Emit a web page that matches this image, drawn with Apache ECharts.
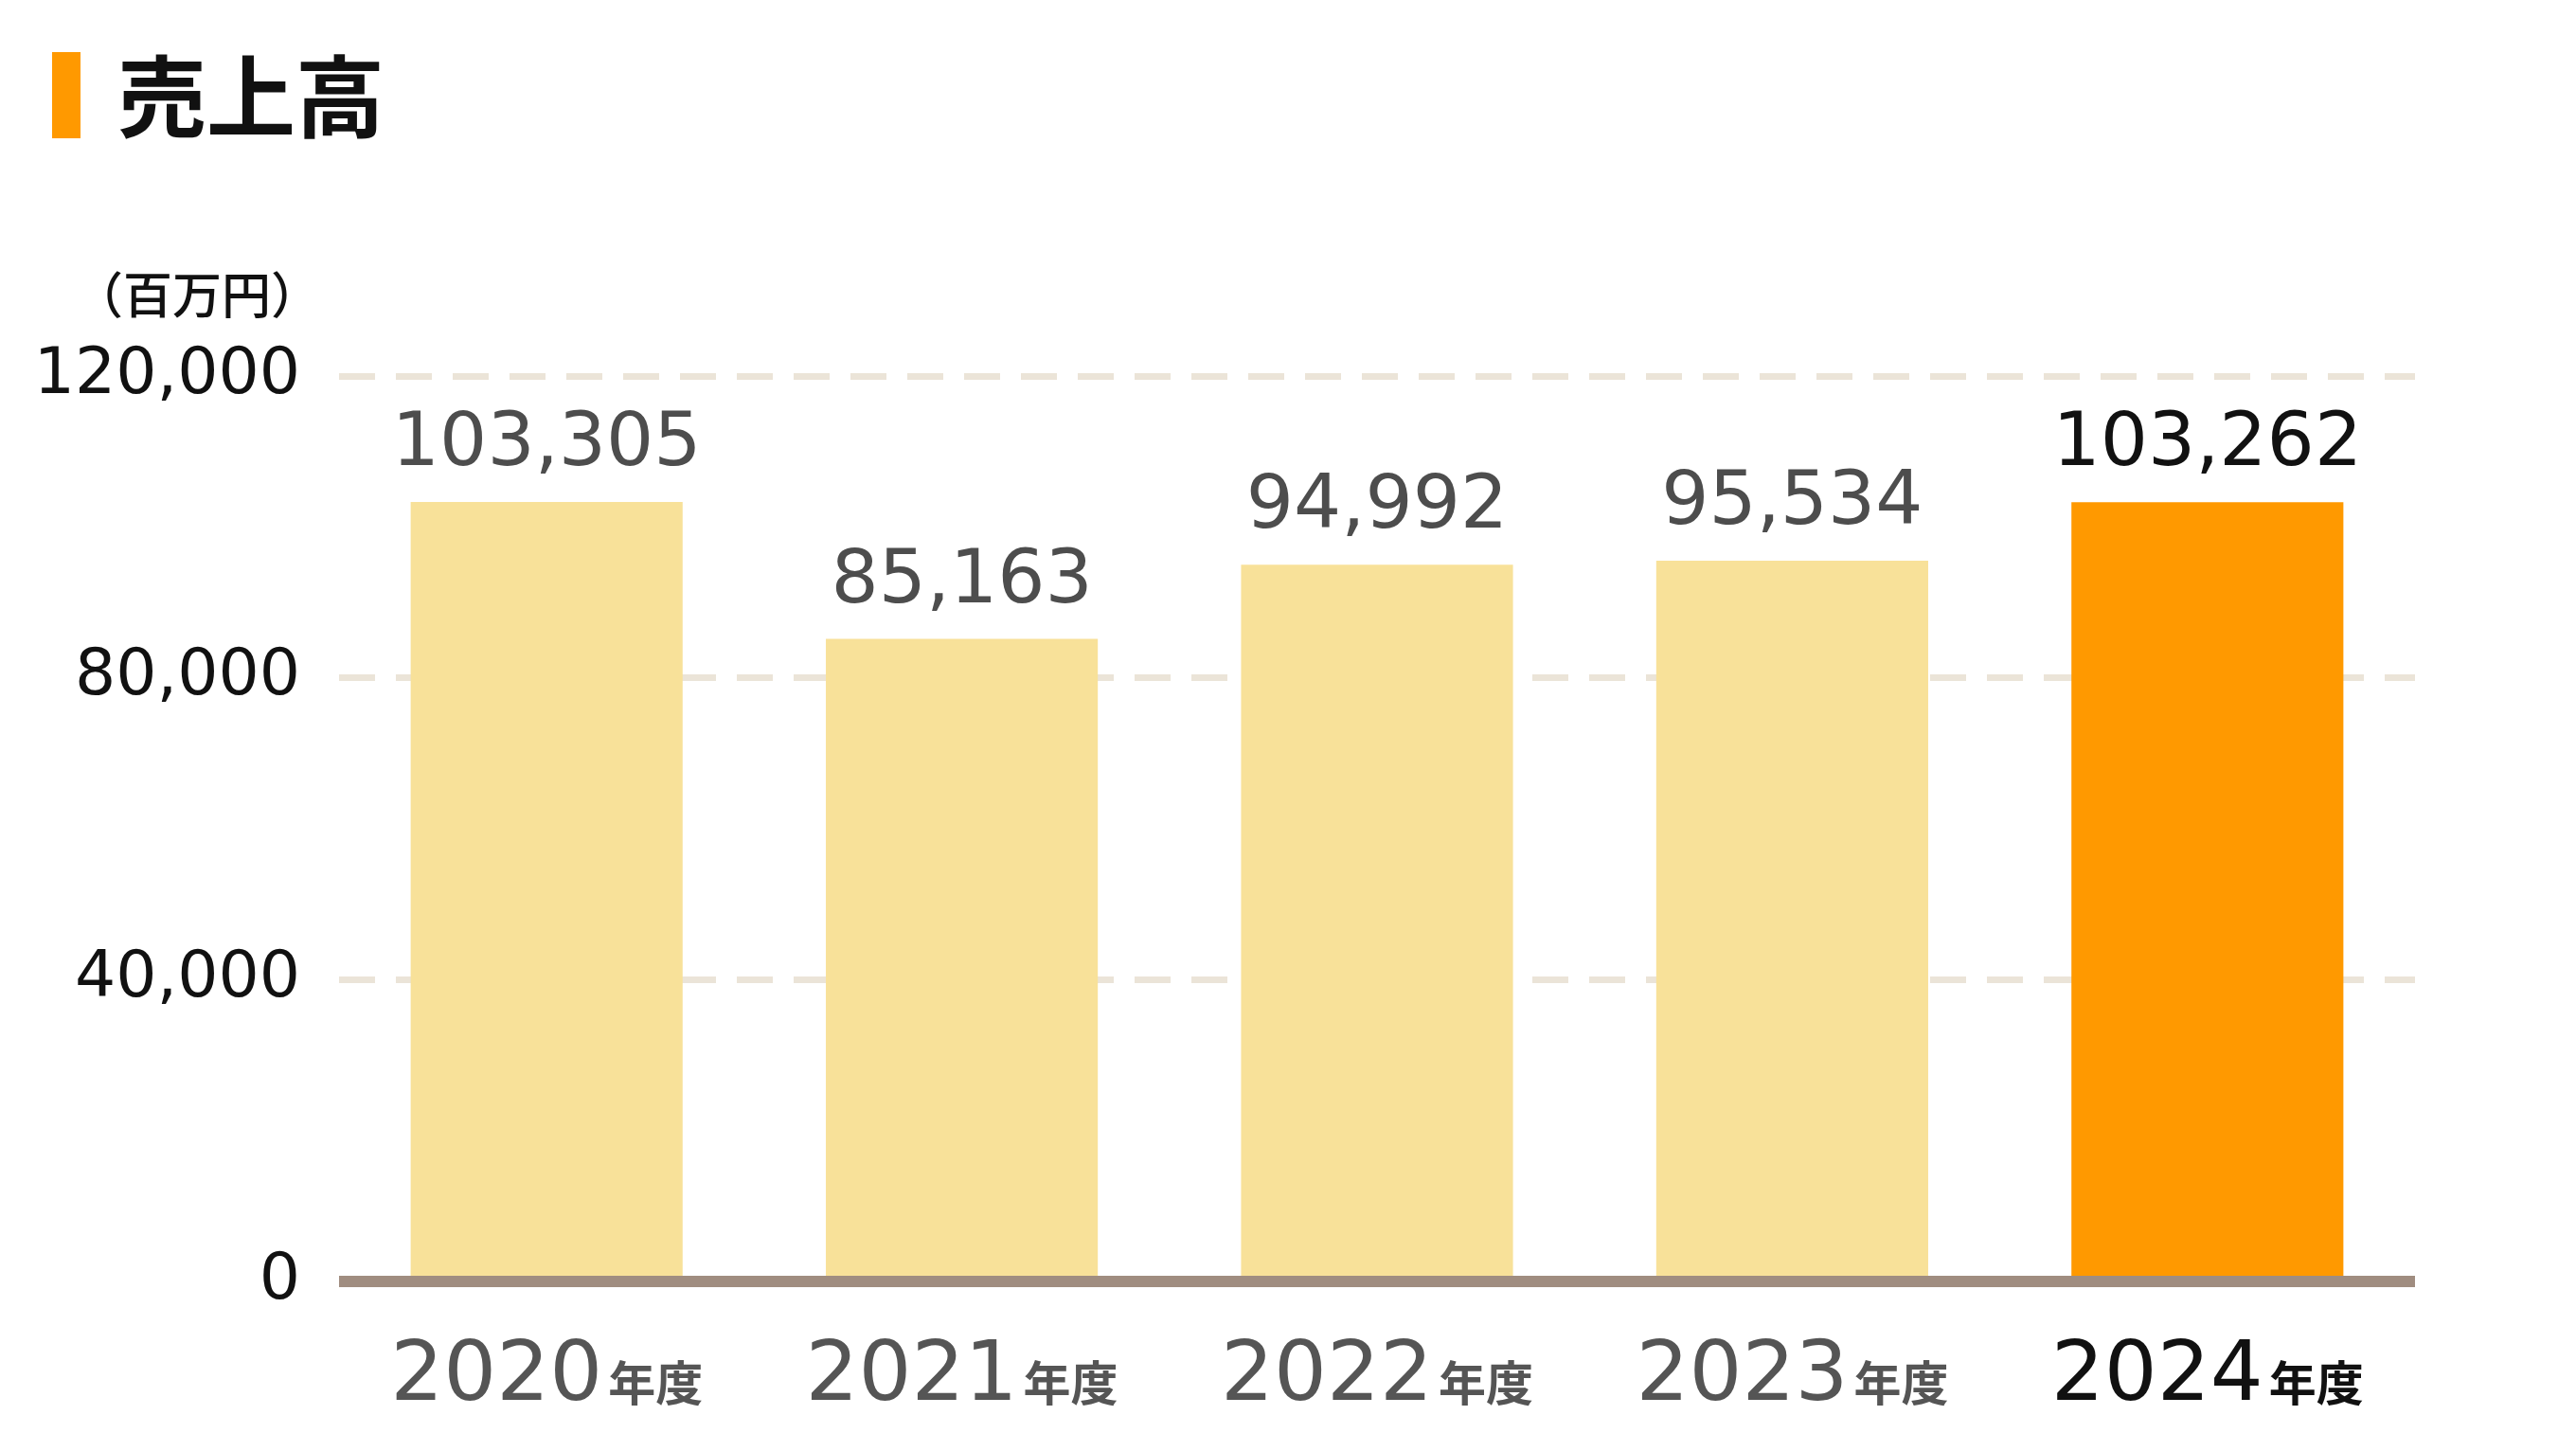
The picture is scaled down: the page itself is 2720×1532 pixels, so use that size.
<!DOCTYPE html>
<html>
<head>
<meta charset="utf-8">
<script src="https://cdn.jsdelivr.net/npm/echarts@6/dist/echarts.min.js"></script>
<style>
  html, body { margin: 0; padding: 0; background: #fff; }
  #chart { width: 2720px; height: 1532px; }
</style>
</head>
<body>
<div id="chart"></div>
<script>
// 年度と売上高（百万円）
var years = ['2020', '2021', '2022', '2023', '2024'];
var sales = [103305, 85163, 94992, 95534, 103262];
var yTicks = [0, 40000, 80000, 120000];
var highlight = 4; // 最新年度を強調

var numFont = '"DejaVu Sans", sans-serif';
var jpFont = '"Noto Sans CJK JP", sans-serif';

var chart = echarts.init(document.getElementById('chart'));

var barData = sales.map(function (v, i) {
    var hot = i === highlight;
    return {
        value: v,
        itemStyle: { color: hot ? '#ff9900' : '#f8e199' },
        label: { color: hot ? '#111111' : '#4d4d4d' }
    };
});

var option = {
    animation: false,
    title: {
        text: '売上高',
        left: 119,
        top: 50,
        textStyle: {
            fontFamily: jpFont,
            fontSize: 94,
            fontWeight: 'bold',
            color: '#111'
        }
    },
    graphic: [{
        type: 'rect',
        shape: { x: 55, y: 55, width: 30, height: 91 },
        style: { fill: '#ff9900' }
    }],
    grid: {
        left: 358,
        right: 170,
        top: 397,
        bottom: 179
    },
    xAxis: {
        type: 'category',
        data: years,
        z: 10,
        axisTick: { show: false },
        axisLine: {
            lineStyle: { color: '#a08d80', width: 12, cap: 'butt' }
        },
        axisLabel: {
            margin: 58,
            formatter: function (v, i) {
                return i === highlight ? '{hn|' + v + '}{hu|年度}' : '{n|' + v + '}{u|年度}';
            },
            rich: {
                n: { fontFamily: numFont, fontSize: 88, color: '#555555' },
                u: { fontFamily: jpFont, fontSize: 50, fontWeight: 'bold', color: '#555555', padding: [10, 0, 0, 6] },
                hn: { fontFamily: numFont, fontSize: 88, color: '#111111' },
                hu: { fontFamily: jpFont, fontSize: 50, fontWeight: 'bold', color: '#111111', padding: [10, 0, 0, 6] }
            }
        }
    },
    yAxis: {
        type: 'value',
        min: yTicks[0],
        max: yTicks[yTicks.length - 1],
        interval: yTicks[1] - yTicks[0],
        name: '（百万円）',
        nameLocation: 'end',
        nameGap: 86,
        nameTextStyle: {
            fontFamily: jpFont,
            fontSize: 52,
            fontWeight: 500,
            color: '#111',
            align: 'right',
            verticalAlign: 'middle',
            padding: [0, 20, 0, 0]
        },
        axisLine: { show: false },
        axisTick: { show: false },
        axisLabel: {
            margin: 41,
            fontFamily: numFont,
            fontSize: 68,
            color: '#111',
            padding: [18, 0, 0, 0],
            formatter: function (v) { return v.toLocaleString('en-US'); }
        },
        splitLine: {
            lineStyle: {
                color: '#ebe4d8',
                width: 7,
                type: [38, 22]
            }
        }
    },
    series: [{
        type: 'bar',
        data: barData,
        barWidth: '65.5%',
        label: {
            show: true,
            position: 'top',
            distance: 20,
            fontFamily: numFont,
            fontSize: 79,
            formatter: function (p) { return p.value.toLocaleString('en-US'); }
        }
    }]
};

chart.setOption(option);
</script>
</body>
</html>
